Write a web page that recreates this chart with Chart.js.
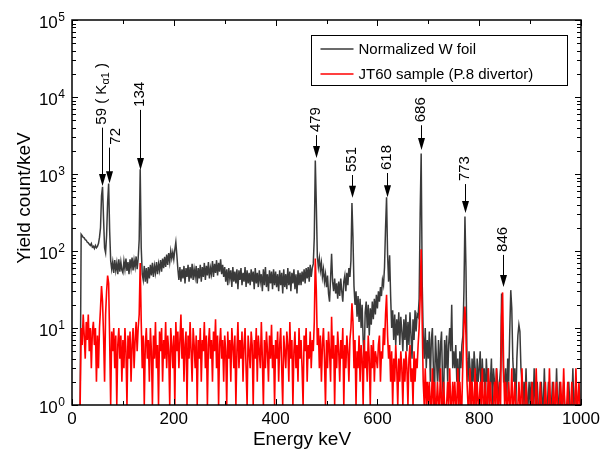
<!DOCTYPE html>
<html>
<head>
<meta charset="utf-8">
<script src="https://cdn.jsdelivr.net/npm/chart.js@4/dist/chart.umd.min.js"></script>
<style>
  html, body { margin: 0; padding: 0; background: #fff; }
  canvas { display: block; }
</style>
</head>
<body>
<canvas id="spectrum" width="607" height="453"></canvas>
<script>
// channel width of both spectra (keV)
const E_STEP = 2;

// Normalized W foil, counts/keV, one value per 2 keV channel starting at 0 keV
const wFoil = [
  null, null, null, null, null, null, null, null, 1, 165, 158, 150, 148, 140, 138, 130, 128, 122, 118, 125, 112, 115, 108, 118, 110, // 0-48
  115, 125, 150, 200, 520, 680, 260, 110, 95, 160, 430, 750, 180, 75, 58, 72, 52, 76, 56, 70, 50, 78, 54, 72, 56,                   // 50-98
  52, 74, 58, 80, 55, 72, 50, 78, 60, 82, 56, 76, 62, 85, 58, 80, 140, 1150, 110, 50, 42, 64, 40, 60, 38,                          // 100-148
  62, 44, 66, 48, 70, 46, 64, 52, 72, 50, 68, 56, 76, 54, 80, 60, 84, 62, 90, 66, 94, 72, 100, 80, 96,                             // 150-198
  78, 104, 130, 88, 58, 42, 62, 40, 58, 44, 64, 38, 60, 46, 66, 40, 62, 44, 68, 42, 58, 46, 64, 38, 60,                            // 200-248
  44, 66, 40, 62, 46, 70, 42, 64, 48, 72, 44, 60, 50, 74, 46, 68, 52, 76, 48, 70, 54, 78, 50, 66, 46,                              // 250-298
  62, 40, 58, 36, 60, 44, 56, 34, 62, 40, 54, 38, 58, 32, 56, 42, 60, 36, 52, 40, 62, 34, 56, 38, 52,                              // 300-348
  36, 58, 40, 54, 32, 60, 38, 52, 34, 56, 40, 50, 30, 58, 36, 62, 34, 50, 30, 56, 38, 54, 32, 58, 36,                              // 350-398
  54, 34, 50, 30, 56, 36, 52, 28, 58, 34, 50, 32, 60, 36, 54, 30, 52, 38, 58, 32, 50, 28, 56, 36, 52,                              // 400-448
  36, 54, 40, 58, 38, 60, 44, 62, 40, 66, 46, 60, 68, 150, 1500, 400, 85, 62, 80, 56, 70, 46, 58, 40, 50,                          // 450-498
  34, 48, 28, 22, 44, 92, 40, 30, 44, 28, 38, 24, 40, 26, 44, 30, 22, 40, 48, 30, 52, 36, 60, 46, 75,                              // 500-548
  420, 150, 35, 20, 30, 14, 26, 12, 24, 10, 20, 7, 4, 16, 22, 10, 20, 8, 18, 11, 22, 13, 24, 15, 27,                               // 550-598
  18, 30, 22, 34, 26, 42, 36, 62, 200, 500, 90, 40, 88, 26, 10, 17, 7, 15, 6, 13, 8, 16, 6, 14, 9,                                 // 600-648
  5, 13, 7, 15, 5, 12, 6, 16, 8, 4, 13, 7, 17, 9, 15, 14, 24, 300, 1850, 40, 8, 4, 10, 3, 7,                                       // 650-698
  4, 9, 2, 7, 10, 3, 1, 8, 4, 2, 7, 2, 6, 9, 2, 1, 7, 3, 8, 2, 6, 10, 5, 20, 3,                                                    // 700-748
  5, 3, 6, 2, 4, 1, 5, 3, 6, 8, 30, 280, 60, 4, 2, 5, 3, 1, 4, 2, 5, 3, 1, 4, 2,                                                   // 750-798
  3, 5, 1, 4, 2, 3, 1, 4, 2, 3, 1, 2, 4, 1, 3, 2, 1, 3, 2, 1, 2, 3, 28, 8, 2,                                                      // 800-848
  2, 3, 1, 4, 2, 9, 31, 18, 4, 2, 3, 1, 4, 8, 11, 9, 3, 2, 1, 2, 1, 3, 1, 1, 2,                                                    // 850-898
  1, 2, 1, 1, 3, 1, 1, 2, 1, 1, 1, 2, 1, 1, 3, 1, 1, 1, 2, 1, 1, 1, 2, 1, 1,                                                       // 900-948
  1, 3, 1, 1, 2, 1, 1, 1, 2, 1, 1, 1, 1, 2, 1, 1, 1, 3, 1, 1, 2, 1, 1, 1, 1,                                                       // 950-998
  1                                                                                                                                // 1000
];

// JT60 sample (P.8 divertor), same channels
const jt60 = [
  null, null, null, null, null, null, null, null, 1, 10, 6, 15, 8, 4, 12, 7, 15, 5, 10, 3, 9, 12, 6, 10, 2, // 0-48
  8, 3, 10, 18, 35, 22, 8, 2, 15, 30, 48, 38, 7, 1, 9, 5, 10, 3, 8, 1, 6, 10, 4, 8, 2,                     // 50-98
  7, 3, 10, 5, 1, 8, 4, 9, 2, 6, 10, 3, 7, 12, 5, 10, 15, 70, 12, 3, 8, 1, 6, 10, 4,                       // 100-148
  7, 2, 10, 5, 1, 8, 4, 12, 3, 6, 1, 9, 5, 10, 2, 7, 4, 12, 3, 8, 5, 1, 10, 6, 3,                          // 150-198
  8, 1, 12, 5, 9, 3, 7, 15, 4, 10, 2, 6, 9, 1, 8, 4, 12, 5, 2, 10, 6, 3, 8, 1, 7,                          // 200-248
  4, 10, 2, 7, 5, 12, 3, 8, 1, 6, 10, 4, 7, 2, 9, 5, 13, 3, 8, 1, 6, 10, 4, 7, 2,                          // 250-298
  8, 5, 1, 9, 4, 7, 2, 10, 6, 3, 8, 1, 5, 12, 3, 7, 4, 9, 2, 6, 10, 3, 1, 8, 5,                            // 300-348
  3, 9, 6, 1, 7, 4, 10, 2, 8, 5, 3, 12, 4, 1, 7, 3, 9, 5, 2, 8, 4, 11, 3, 6, 1,                            // 350-398
  7, 4, 9, 2, 6, 10, 3, 1, 8, 5, 3, 9, 6, 2, 12, 4, 7, 1, 5, 9, 3, 6, 2, 10, 4,                            // 400-448
  7, 3, 1, 8, 5, 10, 2, 6, 4, 9, 3, 7, 5, 12, 80, 30, 6, 10, 3, 8, 2, 6, 10, 4, 1,                         // 450-498
  7, 3, 9, 5, 2, 14, 4, 8, 1, 6, 3, 9, 5, 2, 7, 4, 10, 1, 6, 3, 8, 5, 2, 7, 10,                            // 500-548
  21, 12, 3, 7, 1, 5, 3, 8, 2, 6, 4, 1, 7, 3, 5, 2, 8, 4, 1, 6, 3, 7, 2, 5, 4,                             // 550-598
  3, 6, 8, 2, 5, 4, 10, 6, 15, 27, 8, 4, 6, 2, 5, 1, 4, 2, 6, 3, 1, 4, 2, 5, 3,                            // 600-648
  1, 4, 2, 5, 3, 1, 4, 6, 2, 3, 1, 5, 2, 4, 3, 6, 10, 25, 105, 12, 2, 1, 3, 1, 2,                          // 650-698
  1, 2, 1, 1, 3, 1, 2, 1, 1, 2, 1, 1, 3, 1, 1, 2, 1, 1, 1, 2, 1, 3, 1, 1, 2,                               // 700-748
  1, 2, 1, 1, 3, 1, 2, 1, 1, 4, 12, 19, 8, 2, 1, 1, 3, 1, 2, 1, 1, 3, 1, 2, 1,                             // 750-798
  1, 2, 1, 3, 1, 1, 2, 1, 1, 3, 1, 2, 1, 1, 1, 2, 1, 3, 1, 1, 2, 1, 14, 29, 3,                             // 800-848
  1, 2, 1, 1, 2, 1, 1, 3, 1, 1, 2, 1, 1, 1, 2, 1, 1, 3, 1, 1, 1, 2, 1, 1, 1,                               // 850-898
  1, 1, 2, 1, 1, 1, 3, 1, 1, 1, 2, 1, 1, 1, 1, 2, 1, 1, 1, 3, 1, 1, 1, 2, 1,                               // 900-948
  1, 2, 1, 1, 1, 2, 1, 1, 3, 1, 1, 1, 2, 1, 1, 1, 2, 1, 1, 1, 3, 1, 1, 2, 1,                               // 950-998
  1                                                                                                        // 1000
];

const energy = wFoil.map((_, i) => i * E_STEP);

const seriesNames = ['Normalized W foil', 'JT60 sample (P.8 divertor)'];
const seriesColors = ['#3a3a3a', '#ff0000'];

// labelled peaks: energy, text, arrow start / tip (counts/keV)
const peakEnergy = [59, 72, 134, 479, 551, 618, 686, 773, 846];
const peakLabel = ['59 ( K_{α1} )', '72', '134', '479', '551', '618', '686', '773', '846'];
const arrowTop = [4000, 2200, 6800, 3200, 970, 1030, 4300, 740, 89];
const arrowTip = [700, 760, 1130, 1610, 490, 500, 2050, 312, 34];

const xMajor = [0, 200, 400, 600, 800, 1000];
const xMinor = [100, 300, 500, 700, 900];
const yDecades = [0, 1, 2, 3, 4, 5];

const FONT = 'Arial, "Liberation Sans", sans-serif';

function drawRich(ctx, text, size) {
    // "_{...}" marks a subscript
    const parts = text.split(/_\{([^}]*)\}/);
    let x = 0;
    parts.forEach((p, i) => {
        const sub = i % 2 === 1;
        ctx.font = (sub ? size - 4 : size) + 'px ' + FONT;
        ctx.fillText(p, x, sub ? 4 : 0);
        x += ctx.measureText(p).width;
    });
}

const decorPlugin = {
    id: 'decor',
    afterDatasetsDraw(chart) {
        const ctx = chart.ctx;
        const xs = chart.scales.x;
        const ys = chart.scales.y;
        const a = chart.chartArea;
        ctx.save();
        ctx.strokeStyle = '#000';
        ctx.fillStyle = '#000';

        // frame
        ctx.lineWidth = 1.5;
        ctx.strokeRect(a.left, a.top, a.right - a.left, a.bottom - a.top);

        // inward ticks on all four sides
        ctx.lineWidth = 1;
        ctx.beginPath();
        const xt = (v, len) => {
            const px = Math.round(xs.getPixelForValue(v)) + 0.5;
            ctx.moveTo(px, a.bottom); ctx.lineTo(px, a.bottom - len);
            ctx.moveTo(px, a.top); ctx.lineTo(px, a.top + len);
        };
        xMajor.forEach(v => xt(v, 6));
        xMinor.forEach(v => xt(v, 4));
        const yt = (v, len) => {
            const py = Math.round(ys.getPixelForValue(v)) + 0.5;
            ctx.moveTo(a.left, py); ctx.lineTo(a.left + len, py);
            ctx.moveTo(a.right, py); ctx.lineTo(a.right - len, py);
        };
        yDecades.forEach(d => {
            yt(Math.pow(10, d), 6);
            if (d < 5) {
                for (let m = 2; m <= 9; m++) yt(m * Math.pow(10, d), 4);
            }
        });
        ctx.stroke();

        // y tick labels as 10 with a raised exponent
        ctx.textBaseline = 'alphabetic';
        ctx.textAlign = 'left';
        yDecades.forEach(d => {
            const py = ys.getPixelForValue(Math.pow(10, d));
            ctx.font = '12px ' + FONT;
            const ew = ctx.measureText(String(d)).width;
            const ex = a.left - 7 - ew;
            ctx.fillText(String(d), ex, py + 1);
            ctx.font = '17px ' + FONT;
            const bw = ctx.measureText('10').width;
            ctx.fillText('10', ex - bw - 0.5, py + 8);
        });

        // peak arrows and labels; the 72 label sits right of its arrow
        ctx.lineWidth = 1;
        peakEnergy.forEach((e, i) => {
            const px = Math.round(xs.getPixelForValue(e)) + 0.5;
            const top = ys.getPixelForValue(arrowTop[i]);
            const tip = ys.getPixelForValue(arrowTip[i]);
            ctx.beginPath();
            ctx.moveTo(px, top);
            ctx.lineTo(px, tip - 10);
            ctx.stroke();
            ctx.beginPath();
            ctx.moveTo(px, tip);
            ctx.lineTo(px - 3.5, tip - 12);
            ctx.lineTo(px + 3.5, tip - 12);
            ctx.closePath();
            ctx.fill();

            const shift = peakLabel[i] === '72' ? 6 : -1;
            ctx.save();
            ctx.translate(px + shift, top - 3);
            ctx.rotate(-Math.PI / 2);
            ctx.textAlign = 'left';
            ctx.textBaseline = 'middle';
            drawRich(ctx, peakLabel[i], 15);
            ctx.restore();
        });

        // legend box
        const bx = Math.round(a.right - 270) + 0.5;
        const by = Math.round(a.top + 15) + 0.5;
        ctx.lineWidth = 1;
        ctx.fillStyle = '#fff';
        ctx.fillRect(bx, by, 256, 50);
        ctx.strokeStyle = '#000';
        ctx.strokeRect(bx, by, 256, 50);
        ctx.font = '15px ' + FONT;
        ctx.textBaseline = 'middle';
        ctx.textAlign = 'left';
        seriesNames.forEach((name, i) => {
            const ry = Math.round(by + 13 + i * 25);
            ctx.lineWidth = 1.5;
            ctx.strokeStyle = seriesColors[i];
            ctx.beginPath();
            ctx.moveTo(bx + 9, ry);
            ctx.lineTo(bx + 42, ry);
            ctx.stroke();
            ctx.fillStyle = '#000';
            ctx.fillText(name, bx + 47, ry + 1);
        });

        // axis titles
        ctx.fillStyle = '#000';
        ctx.font = '19px ' + FONT;
        ctx.textAlign = 'center';
        ctx.textBaseline = 'middle';
        ctx.fillText('Energy keV', 302, a.bottom + 35);
        ctx.save();
        ctx.translate(25, 198);
        ctx.rotate(-Math.PI / 2);
        ctx.fillText('Yield count/keV', 0, 0);
        ctx.restore();

        ctx.restore();
    }
};

const toPoints = arr => arr.map((v, i) => ({ x: energy[i], y: v }));

new Chart(document.getElementById('spectrum'), {
    type: 'line',
    data: {
        datasets: [
            {
                label: seriesNames[0],
                data: toPoints(wFoil),
                borderColor: seriesColors[0],
                borderWidth: 1.5,
                pointRadius: 0,
                tension: 0,
                order: 1
            },
            {
                label: seriesNames[1],
                data: toPoints(jt60),
                borderColor: seriesColors[1],
                borderWidth: 1.6,
                pointRadius: 0,
                tension: 0,
                order: 0
            }
        ]
    },
    options: {
        responsive: false,
        animation: false,
        events: [],
        layout: { padding: { left: 0, right: 26, top: 20, bottom: 0 } },
        scales: {
            x: {
                type: 'linear',
                min: 0,
                max: 1000,
                grid: { display: false, drawTicks: false },
                border: { display: false },
                ticks: {
                    stepSize: 200,
                    autoSkip: false,
                    maxRotation: 0,
                    padding: 4,
                    color: '#000',
                    font: { family: FONT, size: 17 },
                    callback: v => String(v)
                },
                afterFit: s => { s.height = 48; }
            },
            y: {
                type: 'logarithmic',
                min: 1,
                max: 100000,
                grid: { display: false, drawTicks: false },
                border: { display: false },
                ticks: { display: false },
                afterFit: s => { s.width = 72; }
            }
        },
        plugins: {
            legend: { display: false },
            tooltip: { enabled: false }
        }
    },
    plugins: [decorPlugin]
});
</script>
</body>
</html>
